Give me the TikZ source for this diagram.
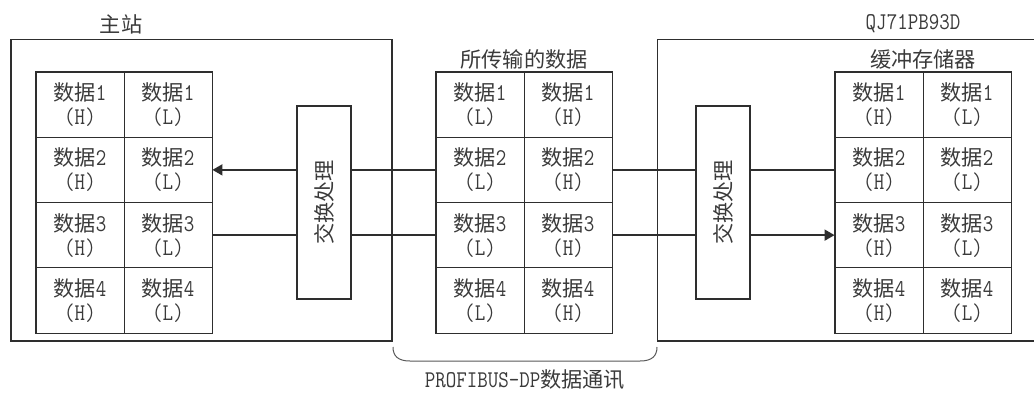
\documentclass[tikz,border=0pt]{standalone}
\usepackage{fontspec}
\setmonofont{Latin Modern Mono}[Scale=1.2, FakeStretch=0.85]
\newfontfamily\cjk{Noto Sans CJK SC}[Scale=1.06]
\usetikzlibrary{arrows.meta}
\definecolor{ink}{HTML}{2E2E2E}
\definecolor{txt}{HTML}{3A3A3A}
\begin{document}
\begin{tikzpicture}[x=1pt,y=-1pt,
  txtfont/.style={font=\fontsize{20}{24}\selectfont\ttfamily, text=txt},
  cellbox/.style={draw=ink, line width=0.9pt, minimum width=88pt, minimum height=65.25pt,
    inner sep=0pt, align=center, txtfont},
  tableframe/.style={draw=ink, line width=1.5pt},
  outerbox/.style={draw=ink, line width=1.4pt, inner sep=0pt},
  convbox/.style={draw=ink, line width=1.2pt, minimum width=54pt, minimum height=193pt, inner sep=0pt, txtfont},
  conn/.style={draw=ink, line width=1.8pt},
  tip/.style={-{Triangle[length=10pt,width=11pt]}},
  lbl/.style={inner sep=0pt, txtfont},
  bracket/.style={draw=ink!80, line width=1pt}
]
\useasboundingbox (0,0) rectangle (1034,392);

% outer boxes
\node[outerbox, minimum width=381pt, minimum height=301.5pt] (host) at (201.5,190.25) {};
\node[outerbox, minimum width=390pt, minimum height=301.5pt] (qj) at (852.5,190.25) {};

% labels
\node[lbl] (lhost) at (121,24) {\cjk 主站};
\node[lbl] (lqj) at (913,24) {QJ71PB93D};
\node[lbl] (lmid) at (524,59) {\cjk 所传输的数据};
\node[lbl] (lbuf) at (923,59) {\cjk 缓冲存储器};

% tables
\foreach \t/\x/\p/\q in {L/36/H/L, M/436/L/H, R/835/H/L} {
  \foreach \r in {1,...,4} {
    \node[cellbox] (\t\r a) at ({\x+44},{72+65.25*(\r-0.5)}) {{\cjk 数据}\r\\(\p)};
    \node[cellbox] (\t\r b) at ({\x+132},{72+65.25*(\r-0.5)}) {{\cjk 数据}\r\\(\q)};
  }
  \draw[tableframe] (\t1a.north west) rectangle (\t4b.south east);
}

% conversion boxes
\node[convbox] (cvL) at (324,202.5) {\rotatebox{90}{\cjk 交换处理}};
\node[convbox] (cvR) at (723,202.5) {\rotatebox{90}{\cjk 交换处理}};

% connectors
\draw[conn, tip] (cvL.west |- L2b.east) -- (L2b.east);
\draw[conn] (L3b.east) -- (cvL.west |- L3b.east);
\draw[conn] (cvL.east |- M2a.west) -- (M2a.west);
\draw[conn] (cvL.east |- M3a.west) -- (M3a.west);
\draw[conn] (M2b.east) -- (cvR.west |- M2b.east);
\draw[conn] (M3b.east) -- (cvR.west |- M3b.east);
\draw[conn] (cvR.east |- R2a.west) -- (R2a.west);
\draw[conn, tip] (cvR.east |- R3a.west) -- (R3a.west);

% bracket
\coordinate (bl) at (393,347);
\coordinate (br) at (657,347);
\draw[bracket] (bl) .. controls (393,356) and (398,361) .. (410,361) -- (640,361) .. controls (652,361) and (657,356) .. (br);
\node[lbl] (lprof) at (525,380) {PROFIBUS-DP{\cjk 数据通讯}};
\end{tikzpicture}
\end{document}
